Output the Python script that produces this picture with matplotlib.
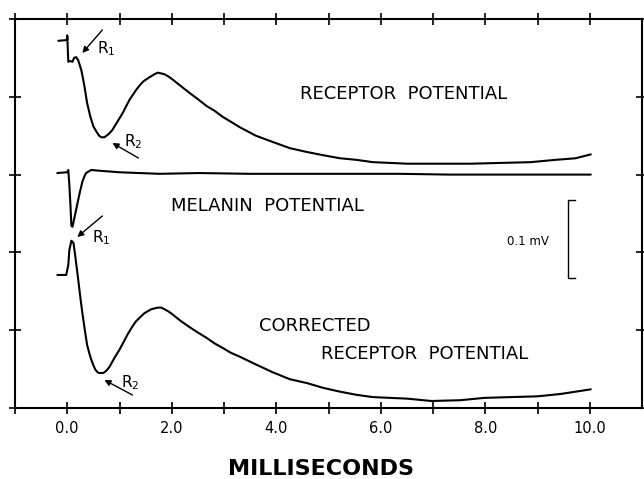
import matplotlib
matplotlib.use("Agg")
import matplotlib.pyplot as plt

# ---- data (time in ms, potential in mV) ----
receptor_t = [-0.17, 0.00, 0.00, 0.02, 0.06, 0.10, 0.13, 0.17, 0.21, 0.27,
              0.30, 0.33, 0.38, 0.44, 0.50, 0.56, 0.61, 0.65, 0.71, 0.75,
              0.79, 0.86, 0.96, 1.06, 1.12, 1.19, 1.26, 1.32, 1.39, 1.46,
              1.57, 1.67, 1.73, 1.80, 1.86, 1.94, 2.02, 2.17, 2.34, 2.50,
              2.67, 2.82, 2.98, 3.13, 3.30, 3.61, 3.93, 4.26, 4.59, 4.89,
              5.22, 5.53, 5.85, 6.51, 7.14, 7.72, 8.29, 8.87, 9.35, 9.73,
              10.02]
receptor_v = [0.472, 0.473, 0.479, 0.445, 0.446, 0.445, 0.450, 0.451, 0.447, 0.434,
              0.424, 0.413, 0.392, 0.375, 0.362, 0.355, 0.350, 0.348, 0.348, 0.350,
              0.352, 0.357, 0.368, 0.379, 0.387, 0.396, 0.403, 0.409, 0.415, 0.420,
              0.425, 0.429, 0.431, 0.430, 0.429, 0.426, 0.422, 0.414, 0.405, 0.397,
              0.388, 0.382, 0.374, 0.368, 0.361, 0.350, 0.342, 0.334, 0.329, 0.325,
              0.321, 0.319, 0.316, 0.314, 0.314, 0.314, 0.315, 0.316, 0.319, 0.321,
              0.326]

melanin_t = [-0.19, 0.00, 0.02, 0.04, 0.06, 0.08, 0.10, 0.12, 0.17, 0.23,
             0.29, 0.33, 0.36, 0.46, 0.61, 1.00, 1.77, 2.53, 3.49, 4.45,
             5.41, 6.37, 7.33, 8.29, 9.25, 10.02]
melanin_v = [0.302, 0.303, 0.306, 0.287, 0.262, 0.234, 0.233, 0.239, 0.255, 0.274,
             0.291, 0.298, 0.302, 0.306, 0.305, 0.303, 0.301, 0.302, 0.301, 0.301,
             0.301, 0.301, 0.300, 0.300, 0.300, 0.300]

corrected_t = [-0.19, -0.02, 0.02, 0.04, 0.08, 0.12, 0.15, 0.18, 0.21, 0.24,
               0.27, 0.30, 0.33, 0.38, 0.42, 0.46, 0.50, 0.54, 0.58, 0.61,
               0.69, 0.75, 0.81, 0.90, 1.00, 1.08, 1.15, 1.23, 1.31, 1.40,
               1.48, 1.61, 1.73, 1.80, 1.86, 1.94, 2.02, 2.17, 2.34, 2.50,
               2.67, 2.82, 2.98, 3.13, 3.30, 3.61, 3.93, 4.26, 4.59, 4.89,
               5.22, 5.53, 5.85, 6.51, 6.97, 7.52, 7.98, 8.48, 9.00, 9.44,
               9.73, 10.02]
corrected_v = [0.171, 0.171, 0.184, 0.203, 0.215, 0.212, 0.197, 0.181, 0.165, 0.148,
               0.132, 0.117, 0.103, 0.081, 0.071, 0.062, 0.055, 0.049, 0.046, 0.045,
               0.045, 0.048, 0.053, 0.064, 0.075, 0.085, 0.094, 0.103, 0.111, 0.117,
               0.122, 0.127, 0.129, 0.129, 0.127, 0.124, 0.120, 0.112, 0.104, 0.097,
               0.090, 0.083, 0.077, 0.071, 0.066, 0.056, 0.046, 0.037, 0.032, 0.026,
               0.021, 0.017, 0.014, 0.012, 0.009, 0.010, 0.013, 0.014, 0.015, 0.018,
               0.021, 0.024]

x_major = [0, 2, 4, 6, 8, 10]
x_labels = ["0.0", "2.0", "4.0", "6.0", "8.0", "10.0"]
x_minor = [-1, 1, 3, 5, 7, 9]
y_ticks = [0.0, 0.1, 0.2, 0.3, 0.4, 0.5]

# text labels: (text, x, y)
trace_labels = [("RECEPTOR  POTENTIAL", 6.44, 0.4036),
                ("MELANIN  POTENTIAL", 3.84, 0.2596),
                ("CORRECTED", 4.73, 0.1054),
                ("RECEPTOR  POTENTIAL", 6.84, 0.0694)]

# arrow annotations: (label, text x, text y, tail x, tail y, head x, head y)
arrows = [("R$_1$", 0.576, 0.4563, 0.672, 0.4859, 0.288, 0.4563),
          ("R$_2$", 1.094, 0.3368, 1.363, 0.3213, 0.864, 0.3406),
          ("R$_1$", 0.480, 0.2134, 0.672, 0.2468, 0.192, 0.2198),
          ("R$_2$", 1.036, 0.0270, 1.248, 0.0167, 0.710, 0.0360)]

scale_x = [9.71, 9.58, 9.58, 9.71]
scale_y = [0.2674, 0.2674, 0.1671, 0.1671]
scale_label = ("0.1 mV", 8.81, 0.2134)

# ---- figure ----
fig = plt.figure(figsize=(6.44, 4.79), dpi=100)
ax = fig.add_axes([15 / 644, 71 / 479, 627 / 644, 389 / 479])

for t, v in [(receptor_t, receptor_v), (melanin_t, melanin_v), (corrected_t, corrected_v)]:
    ax.plot(t, v, color="black", lw=1.5, solid_joinstyle="round", solid_capstyle="round")

ax.set_xlim(-1.0, 11.0)
ax.set_ylim(0.0, 0.5)

ax.set_xticks(x_major)
ax.set_xticklabels(x_labels)
ax.set_xticks(x_minor, minor=True)
ax.set_yticks(y_ticks)
ax.set_yticklabels([])

ax.tick_params(axis="x", which="both", direction="inout", length=8.5, width=1.2,
               top=True, bottom=True, labelsize=10.5, pad=5.0)
ax.tick_params(axis="y", which="both", direction="inout", length=9.0, width=1.2,
               left=True, right=True)
for s in ax.spines.values():
    s.set_linewidth(1.5)

for txt, x, y in trace_labels:
    ax.text(x, y, txt, fontsize=13, ha="center", va="center")

for lab, tx, ty, ax0, ay0, hx, hy in arrows:
    ax.annotate("", xy=(hx, hy), xytext=(ax0, ay0),
                arrowprops=dict(arrowstyle="-|>", color="black", lw=1.0,
                                mutation_scale=9, shrinkA=0, shrinkB=0))
    ax.text(tx, ty, lab, fontsize=11, ha="left", va="baseline")

ax.plot(scale_x, scale_y, color="black", lw=1.0)
ax.text(scale_label[1], scale_label[2], scale_label[0], fontsize=8.5,
        ha="center", va="center")

fig.text(321 / 644, 1 - 469 / 479, "MILLISECONDS", fontsize=16, fontweight="bold",
         ha="center", va="center")

fig.savefig("out.png", dpi=100)
